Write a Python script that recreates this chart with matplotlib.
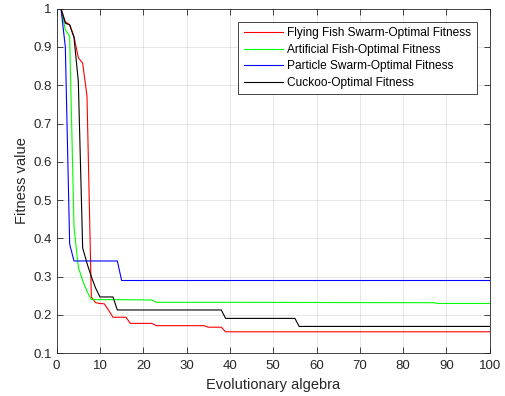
import matplotlib.pyplot as plt
import numpy as np

plt.rcParams['font.family'] = 'Liberation Sans'
plt.rcParams['font.size'] = 9

# generation numbers and fitness values at the points where the curves change
ffs_gen = [1, 2, 3, 4, 5, 6, 7, 8, 9, 10, 11, 12, 13, 16, 17, 22, 23, 34, 35, 38, 39, 100]
ffs_fit = [1.0, 0.966, 0.958, 0.927, 0.872, 0.858, 0.772, 0.247, 0.232, 0.230, 0.229, 0.212,
           0.194, 0.194, 0.178, 0.178, 0.172, 0.172, 0.168, 0.168, 0.156, 0.156]

afs_gen = [1, 2, 3, 4, 5, 6, 7, 8, 15, 22, 23, 40, 87, 88, 100]
afs_fit = [1.0, 0.945, 0.928, 0.43, 0.325, 0.29, 0.262, 0.240, 0.240, 0.239, 0.233, 0.233,
           0.232, 0.230, 0.230]

pso_gen = [1, 2, 3, 4, 14, 15, 100]
pso_fit = [1.0, 0.9, 0.385, 0.341, 0.341, 0.290, 0.290]

cs_gen = [1, 2, 3, 4, 5, 6, 7, 8, 9, 10, 13, 14, 38, 39, 55, 56, 100]
cs_fit = [1.0, 0.962, 0.958, 0.925, 0.81, 0.375, 0.335, 0.30, 0.27, 0.247, 0.247, 0.213,
          0.213, 0.191, 0.191, 0.170, 0.170]

labels = ["Flying Fish Swarm-Optimal Fitness", "Artificial Fish-Optimal Fitness",
          "Particle Swarm-Optimal Fitness", "Cuckoo-Optimal Fitness"]

fig = plt.figure(figsize=(5.06, 3.96), dpi=100)
ax = fig.add_axes([0.112, 0.108, 0.856, 0.870])

ax.plot(ffs_gen, ffs_fit, color='red', linewidth=0.8, label=labels[0])
ax.plot(afs_gen, afs_fit, color='#00ff00', linewidth=0.8, label=labels[1])
ax.plot(pso_gen, pso_fit, color='blue', linewidth=0.8, label=labels[2])
ax.plot(cs_gen, cs_fit, color='black', linewidth=0.8, label=labels[3])

ax.set_xlim(0, 100)
ax.set_ylim(0.1, 1)
ax.set_xticks(np.arange(0, 101, 10))
ax.set_yticks(np.arange(0.1, 1.01, 0.1))
ax.set_yticklabels(["0.1", "0.2", "0.3", "0.4", "0.5", "0.6", "0.7", "0.8", "0.9", "1"])
ax.grid(True, color='#262626', alpha=0.13, linewidth=0.6)
ax.tick_params(direction='in', top=True, right=True, length=4, width=0.6,
               colors='#262626', labelsize=9.5)
ax.tick_params(axis='x', pad=5)
for s in ax.spines.values():
    s.set_color('#262626')
    s.set_linewidth(0.6)

ax.set_xlabel("Evolutionary algebra", fontsize=10.5, color='#262626', labelpad=4)
ax.set_ylabel("Fitness value", fontsize=10.5, color='#262626', labelpad=3)

leg = ax.legend(loc='upper right', fontsize=8.6, fancybox=False, framealpha=1,
                edgecolor='#262626', borderaxespad=1.1, handlelength=3.3,
                handletextpad=0.35, labelspacing=0.38, borderpad=0.45)
leg.get_frame().set_linewidth(0.6)

fig.savefig("out.png", dpi=100)
